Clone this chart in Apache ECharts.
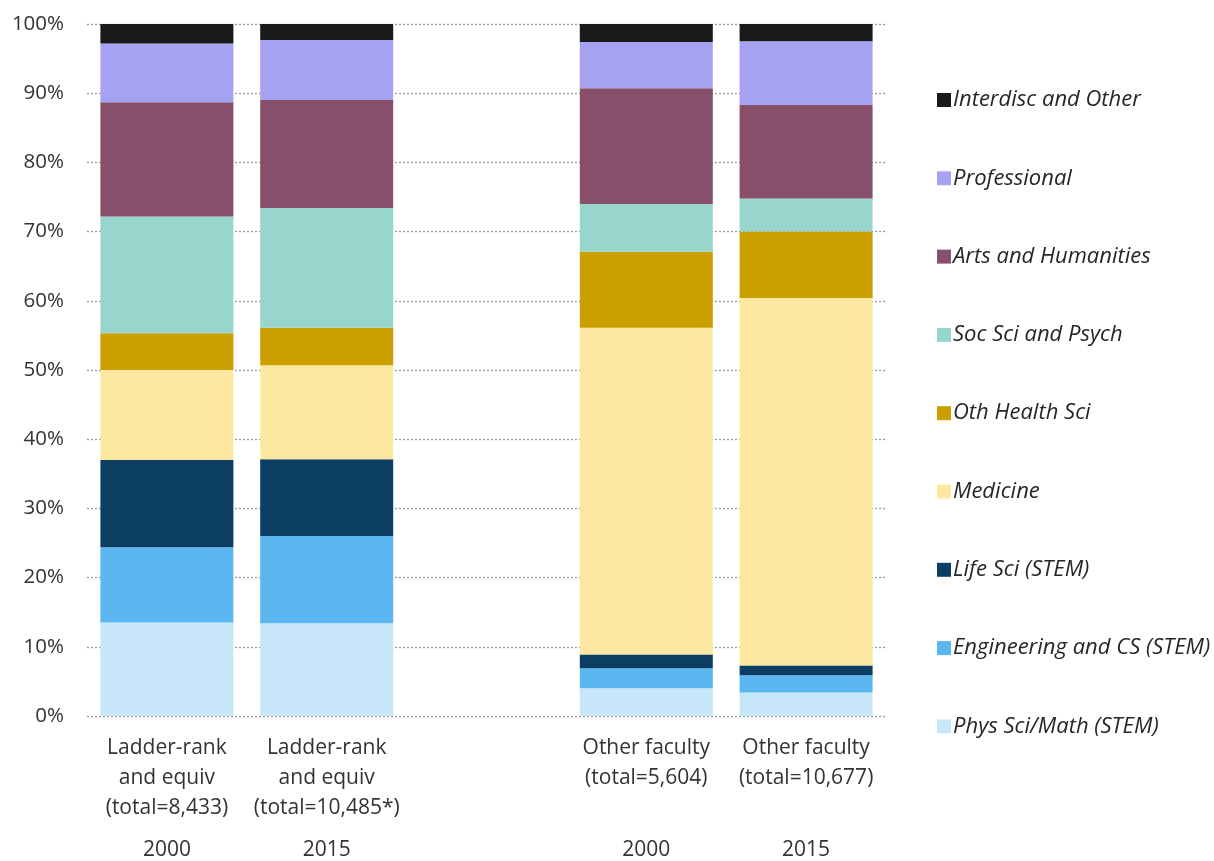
<!DOCTYPE html>
<html>
<head>
<meta charset="utf-8">
<script src="https://cdn.jsdelivr.net/npm/echarts@6/dist/echarts.min.js"></script>
<style>
html,body{margin:0;padding:0;background:#fff;}
#chart{width:1214px;height:861px;}
</style>
</head>
<body>
<div id="chart"></div>
<script>
const categories = ['Ladder-rank\nand equiv\n(total=8,433)', 'Ladder-rank\nand equiv\n(total=10,485*)', '', 'Other faculty\n(total=5,604)', 'Other faculty\n(total=10,677)'];
const years = ['2000', '2015', '', '2000', '2015'];
const yTicks = [0, 10, 20, 30, 40, 50, 60, 70, 80, 90, 100];

const physSci = [13.5, 13.4, null, 4.0, 3.4];
const engCS = [10.9, 12.6, null, 2.9, 2.5];
const lifeSci = [12.6, 11.1, null, 2.0, 1.4];
const medicine = [13.0, 13.6, null, 47.2, 53.1];
const othHealth = [5.3, 5.4, null, 11.0, 9.6];
const socSci = [16.9, 17.3, null, 6.9, 4.8];
const arts = [16.5, 15.6, null, 16.7, 13.5];
const professional = [8.5, 8.7, null, 6.7, 9.2];
const interdisc = [2.8, 2.3, null, 2.6, 2.5];

const seriesNames = ['Phys Sci/Math (STEM)', 'Engineering and CS (STEM)', 'Life Sci (STEM)', 'Medicine', 'Oth Health Sci', 'Soc Sci and Psych', 'Arts and Humanities', 'Professional', 'Interdisc and Other'];
const seriesData = [physSci, engCS, lifeSci, medicine, othHealth, socSci, arts, professional, interdisc];
const colors = ['#c7e6f9', '#5ab7f0', '#0b3e62', '#fde8a1', '#cc9f00', '#98d6cd', '#874f6a', '#a6a2f2', '#1a1a1a'];

const FONT = '"Open Sans", "Noto Sans", sans-serif';

const chart = echarts.init(document.getElementById('chart'), null, {renderer: 'canvas'});
chart.setOption({
  animation: false,
  textStyle: {fontFamily: FONT},
  grid: {left: 87, right: 328, top: 24, bottom: 145, containLabel: false, outerBoundsMode: 'none'},
  legend: {
    orient: 'vertical',
    left: 932,
    top: 84,
    itemWidth: 14,
    itemHeight: 14,
    itemGap: 56.3,
    icon: 'rect',
    data: seriesNames.slice().reverse(),
    textStyle: {fontFamily: FONT, fontSize: 22, lineHeight: 22, fontStyle: 'italic', color: '#262626', padding: [0, 0, 0, -3]}
  },
  xAxis: [
    {
      type: 'category',
      data: categories,
      axisLine: {show: false},
      axisTick: {show: false},
      axisLabel: {interval: 0, margin: 17, lineHeight: 30, fontSize: 21, color: '#333', fontFamily: FONT}
    },
    {
      type: 'category',
      data: years,
      position: 'bottom',
      offset: 102,
      axisLine: {show: false},
      axisTick: {show: false},
      axisLabel: {interval: 0, margin: 17, lineHeight: 30, fontSize: 21, color: '#333', fontFamily: FONT}
    }
  ],
  yAxis: {
    type: 'value',
    min: yTicks[0],
    max: yTicks[yTicks.length - 1],
    interval: 10,
    axisLine: {show: false},
    axisTick: {show: false},
    axisLabel: {formatter: '{value}%', fontSize: 20.5, color: '#333', margin: 23, fontFamily: FONT},
    splitLine: {show: true, lineStyle: {color: '#9a9a9a', width: 1.3, type: [2, 2]}}
  },
  series: seriesData.map((d, i) => ({
    name: seriesNames[i],
    type: 'bar',
    stack: 'total',
    data: d,
    barWidth: 133,
    itemStyle: {color: colors[i]},
    emphasis: {disabled: true}
  }))
});
</script>
</body>
</html>
